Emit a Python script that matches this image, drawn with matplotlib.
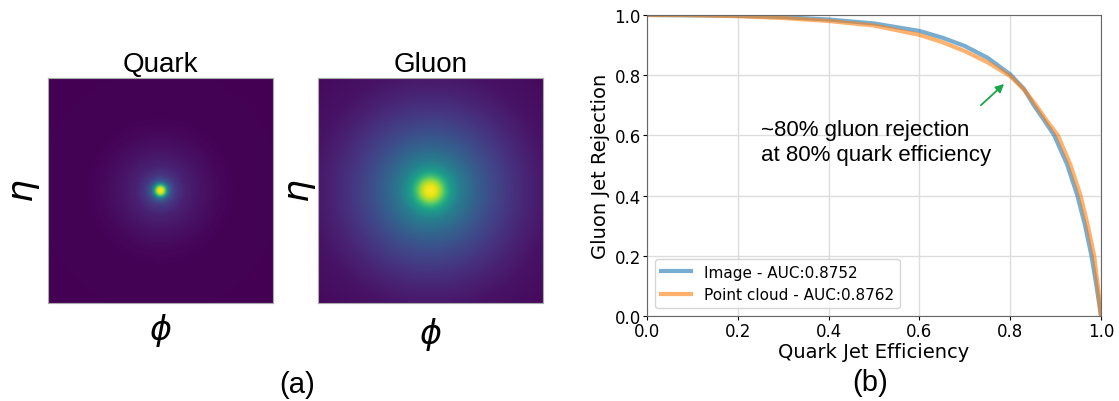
import numpy as np
import matplotlib.pyplot as plt

# Average jet images: radial intensity profiles (radius in display px, colour level 0-1)
quark_r = [0, 3, 5, 7, 10, 15, 25, 40, 55, 70, 170]
quark_level = [1.0, 0.95, 0.72, 0.45, 0.26, 0.16, 0.09, 0.05, 0.025, 0.008, 0.0]
gluon_r = [0, 5, 10, 15, 20, 30, 45, 60, 80, 100, 120, 170]
gluon_level = [1.0, 0.97, 0.85, 0.68, 0.55, 0.42, 0.31, 0.23, 0.15, 0.09, 0.05, 0.015]

# ROC curves
eff_image = [0, 0.1, 0.2, 0.3, 0.4, 0.5, 0.6, 0.65, 0.7, 0.75, 0.8, 0.83, 0.852, 0.875,
             0.897, 0.925, 0.948, 0.965, 0.979, 0.990, 0.996, 1.0]
rej_image = [1.0, 0.999, 0.997, 0.993, 0.985, 0.972, 0.947, 0.925, 0.897, 0.858, 0.803,
             0.755, 0.70, 0.65, 0.60, 0.505, 0.40, 0.30, 0.20, 0.10, 0.04, 0.0]
eff_cloud = [0, 0.1, 0.2, 0.3, 0.4, 0.5, 0.6, 0.65, 0.7, 0.75, 0.8, 0.83, 0.857, 0.88,
             0.905, 0.932, 0.955, 0.971, 0.985, 0.993, 0.997, 1.0]
rej_cloud = [1.0, 0.999, 0.996, 0.99, 0.98, 0.965, 0.934, 0.91, 0.88, 0.843, 0.797,
             0.753, 0.70, 0.65, 0.60, 0.505, 0.40, 0.30, 0.20, 0.10, 0.04, 0.0]
labels = ['Image - AUC:0.8752', 'Point cloud - AUC:0.8762']

fig = plt.figure(figsize=(11.19, 4.02), dpi=100)


def jet_image(r_pts, levels, n=125, size=225):
    c = (np.arange(n) + 0.5) / n * size - size / 2
    xx, yy = np.meshgrid(c, c)
    rr = np.hypot(xx, yy)
    return np.interp(rr, r_pts, levels)


for left, title, r_pts, lev, phi_pad, eta_pad in [(48, 'Quark', quark_r, quark_level, 6, 4),
                                                 (318, 'Gluon', gluon_r, gluon_level, 9, 0)]:
    ax = fig.add_axes([left / 1119, 98 / 402, 225 / 1119, 225 / 402])
    ax.imshow(jet_image(r_pts, lev), cmap='viridis', vmin=0, vmax=1,
              extent=[0, 1, 0, 1], interpolation='bilinear')
    ax.set_xticks([])
    ax.set_yticks([])
    for s in ax.spines.values():
        s.set_color('#aaaaaa')
        s.set_linewidth(0.8)
    ax.set_title(title, fontsize=20, family='Liberation Sans', pad=5)
    ax.set_xlabel(r'$\phi$', fontsize=24, labelpad=phi_pad)
    ax.set_ylabel(r'$\eta$', fontsize=26, labelpad=eta_pad)

ax = fig.add_axes([647 / 1119, 85 / 402, 454 / 1119, 301 / 402])
ax.plot(eff_image, rej_image, color='tab:blue', lw=3, alpha=0.6, label=labels[0])
ax.plot(eff_cloud, rej_cloud, color='tab:orange', lw=3, alpha=0.6, label=labels[1])
ax.set_xlim(0, 1)
ax.set_ylim(0, 1)
ax.grid(True, color='#dddddd', lw=1)
ax.tick_params(labelsize=12, length=3, pad=1.5)
ax.set_xlabel('Quark Jet Efficiency', fontsize=14, labelpad=1)
ax.set_ylabel('Gluon Jet Rejection', fontsize=14, labelpad=3)
for s in ax.spines.values():
    s.set_color('#666666')
ax.legend(loc='lower left', fontsize=11)

ax.annotate('', xy=(0.791, 0.777), xytext=(0.731, 0.694),
            arrowprops=dict(arrowstyle='-|>', color='#1aa64a', lw=1.3, mutation_scale=12))
ax.text(0.251, 0.578, '~80% gluon rejection\nat 80% quark efficiency', fontsize=16,
        family='Liberation Sans', ha='left', va='center', linespacing=1.25)

fig.text(297 / 1119, 1 - 385 / 402, '(a)', fontsize=21, family='Liberation Sans',
         ha='center', va='center')
fig.text(870 / 1119, 1 - 383 / 402, '(b)', fontsize=21, family='Liberation Sans',
         ha='center', va='center')

fig.savefig('out.png', dpi=100)
